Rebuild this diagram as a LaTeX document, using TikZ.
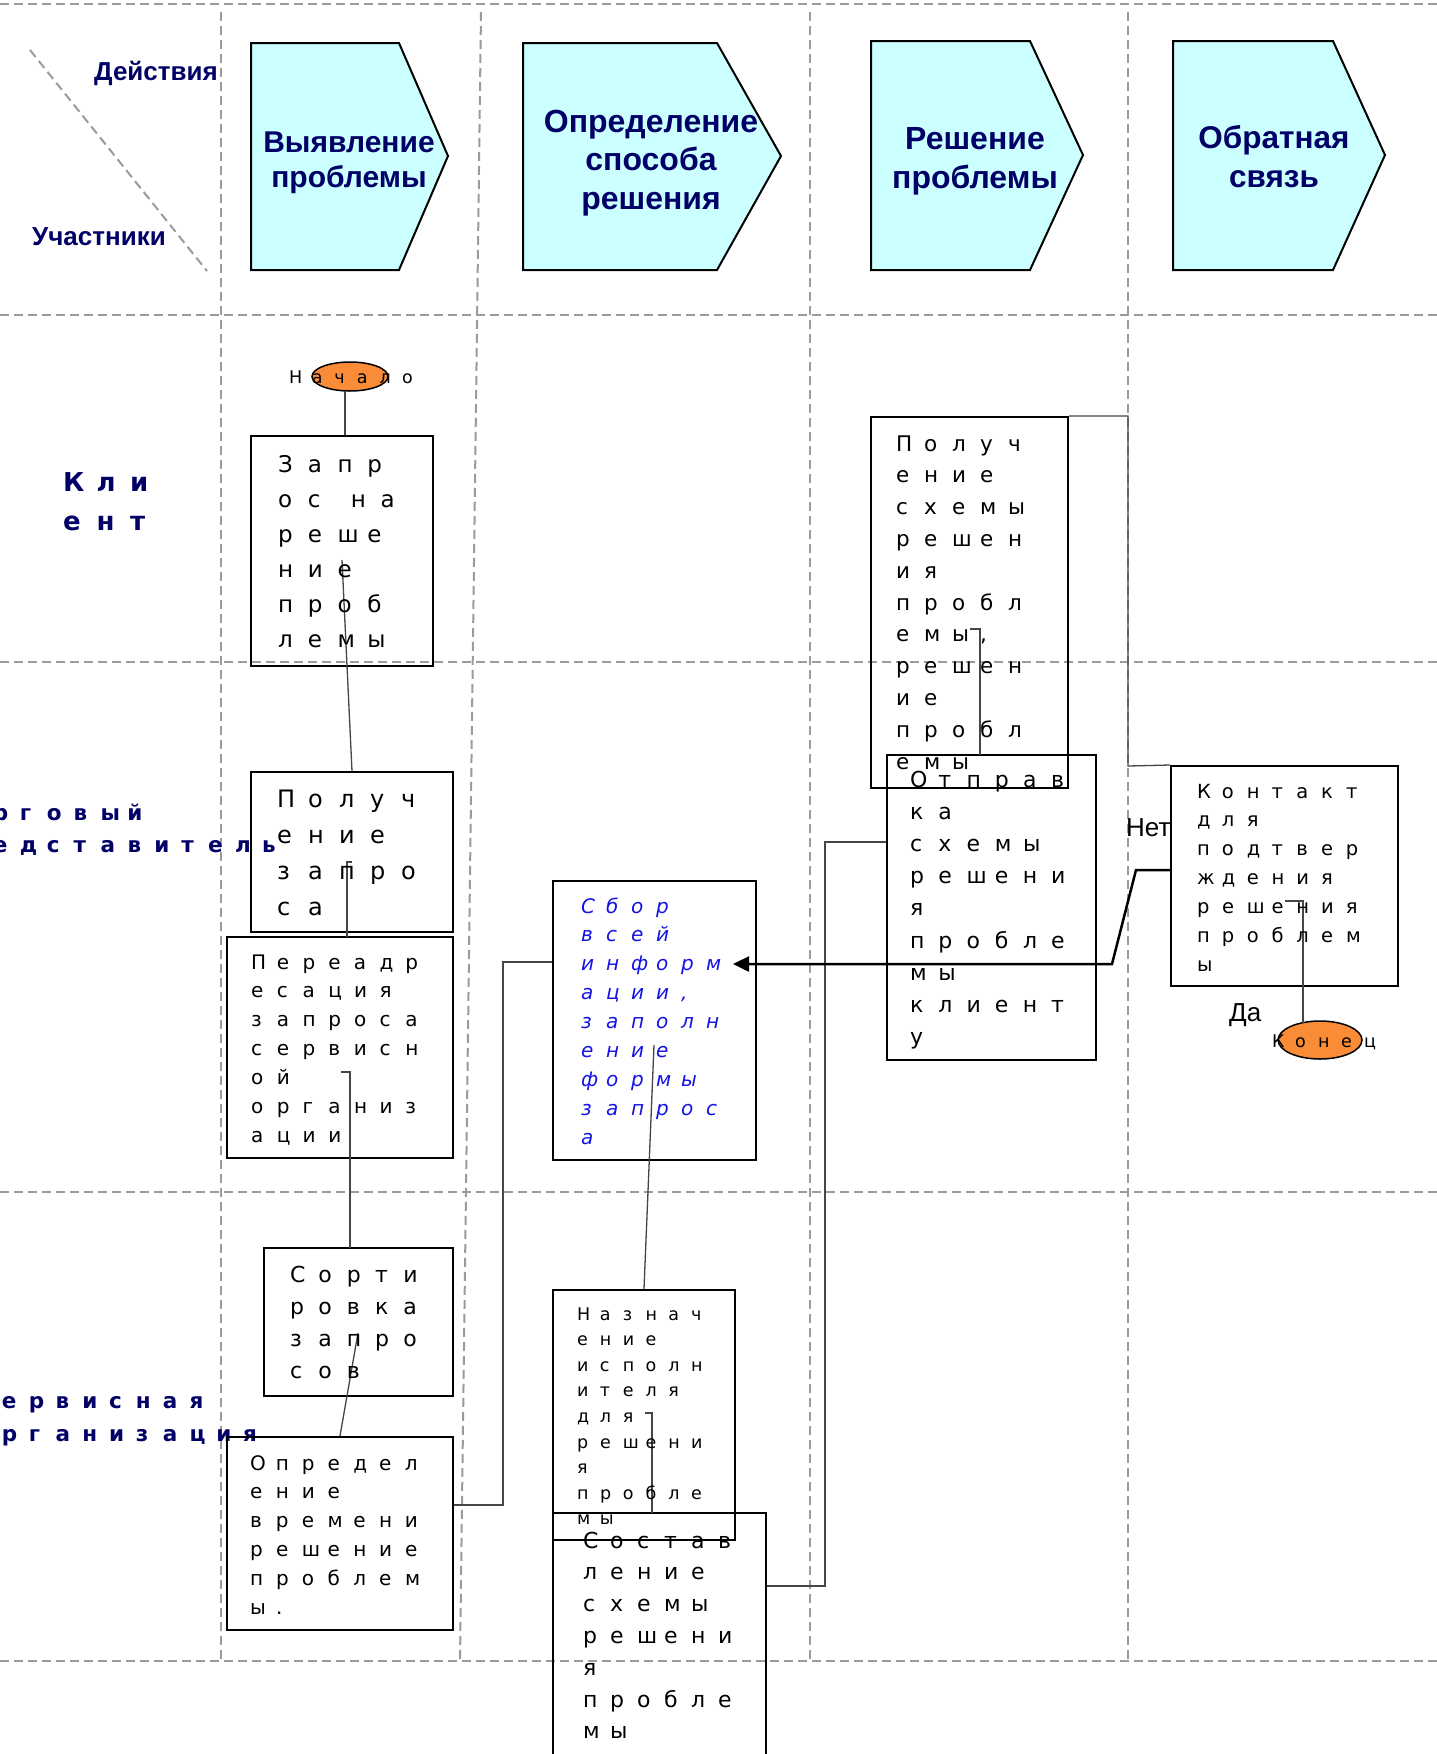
\documentclass[tikz,border=0pt]{standalone}
\usepackage{fontspec}
\setmainfont{DejaVu Sans}
\newfontfamily\hdrfont{Liberation Sans}
\usetikzlibrary{arrows.meta,calc,shapes.geometric}
\definecolor{navy}{RGB}{0,0,102}
\definecolor{cyanfill}{RGB}{204,255,255}
\definecolor{orangefill}{RGB}{250,140,55}
\definecolor{gridgray}{RGB}{155,155,155}
\definecolor{conngray}{RGB}{70,70,70}
\definecolor{bluetext}{RGB}{20,20,230}
\makeatletter
\newlength\fppitch
\let\fp@end\relax
\def\fp#1{\fp@#1\fp@end}
\def\fp@#1{\ifx#1\fp@end\else\ifx#1~\hspace*{0.45\fppitch}\else\makebox[\fppitch][l]{#1}\fi\expandafter\fp@\fi}
\makeatother
\newcommand\ptext[4]{\parbox[t]{340pt}{\fontsize{#1pt}{#2pt}\selectfont\setlength\fppitch{#3pt}#4}}
\begin{document}
\begin{tikzpicture}[x=1pt,y=-1pt,
  grid/.style={draw=gridgray, line width=2pt, dash pattern=on 9pt off 5pt},
  stage/.style={draw=black, line width=2pt, fill=cyanfill, line join=miter},
  stagetxt/.style={font=\hdrfont\bfseries, text=navy, align=center, inner sep=0},
  procbox/.style={draw=black, line width=2pt, rectangle, inner sep=0},
  term/.style={draw=black, line width=1.5pt, fill=orangefill, ellipse, inner sep=0},
  txt/.style={anchor=base west, inner sep=0, text=black},
  lanetxt/.style={anchor=base west, inner sep=0, text=navy, font=\bfseries},
  conn/.style={draw=conngray, line width=1.3pt},
  arrowline/.style={draw=black, line width=2.5pt, -{Triangle[length=16pt,width=15pt]}}]
\useasboundingbox (0,0) rectangle (1437,1754);
\clip (0,0) rectangle (1437,1754);
\fill[white] (0,0) rectangle (1437,1754);
% grid
\foreach \yy in {4,315,662,1192,1661} \draw[grid] (0,\yy) -- (1437,\yy);
\draw[grid] (221,12) -- (221,1661);
\draw[grid] (481,12) -- (460,1661);
\draw[grid] (810,12) -- (810,1661);
\draw[grid] (1128,12) -- (1128,1661);
\draw[grid] (30,50) -- (207,271);
% header
\node[font=\hdrfont\bfseries\fontsize{26pt}{30pt}\selectfont, text=navy, anchor=base east, inner sep=0] (act) at (218,80) {Действия};
\node[font=\hdrfont\bfseries\fontsize{26pt}{30pt}\selectfont, text=navy, anchor=base west, inner sep=0] (part) at (32,245) {Участники};
\draw[stage] (251,43) -- (399,43) -- (448,156) -- (399,270) -- (251,270) -- cycle;
\draw[stage] (523,43) -- (717,43) -- (781,156) -- (717,270) -- (523,270) -- cycle;
\draw[stage] (871,41) -- (1030,41) -- (1083,155) -- (1030,270) -- (871,270) -- cycle;
\draw[stage] (1173,41) -- (1333,41) -- (1385,155) -- (1333,270) -- (1173,270) -- cycle;
\node[stagetxt, font=\hdrfont\bfseries\fontsize{30pt}{35pt}\selectfont] (h1) at (349,162.5) {Выявление\\проблемы};
\node[stagetxt, font=\hdrfont\bfseries\fontsize{32pt}{38.5pt}\selectfont] (h2) at (651,163) {Определение\\способа\\решения};
\node[stagetxt, font=\hdrfont\bfseries\fontsize{32pt}{38.5pt}\selectfont] (h3) at (975,161.5) {Решение\\проблемы};
\node[stagetxt, font=\hdrfont\bfseries\fontsize{31.5pt}{38.5pt}\selectfont] (h4) at (1274,156.5) {Обратная\\связь};
% lane labels
\node[lanetxt] (l1) at (63,491) {\ptext{26}{39}{33.5}{\fp{Кли}\\\fp{ент}}};
\node[lanetxt] (l2) at (-61,820) {\ptext{21.5}{32}{26.9}{\fp{Торговый}\\\fp{представитель}}};
\node[lanetxt] (l3) at (-25,1408) {\ptext{21.5}{33}{26.8}{\fp{Сервисная}\\\fp{организация}}};
% boxes
\node[procbox, minimum width=182pt, minimum height=230pt] (b1) at (342,551) {};
\node[procbox, minimum width=202pt, minimum height=160pt] (b2) at (352,852) {};
\node[procbox, minimum width=226pt, minimum height=221pt] (b3) at (340,1047.5) {};
\node[procbox, minimum width=189pt, minimum height=148pt] (b4) at (358.5,1322) {};
\node[procbox, minimum width=226pt, minimum height=193pt] (b5) at (340,1533.5) {};
\node[procbox, minimum width=203pt, minimum height=279pt] (b6) at (654.5,1020.5) {};
\node[procbox, minimum width=182pt, minimum height=250pt] (b7) at (644,1415) {};
\node[procbox, minimum width=213pt, minimum height=277pt] (b8) at (659.5,1651.5) {};
\node[procbox, minimum width=197pt, minimum height=371pt] (b9) at (969.5,602.5) {};
\node[procbox, minimum width=209pt, minimum height=305pt] (b10) at (991.5,907.5) {};
\node[procbox, minimum width=227pt, minimum height=220pt] (b11) at (1284.5,876) {};
\node[term, minimum width=76pt, minimum height=29pt] (e1) at (350,376.5) {};
\node[term, minimum width=84pt, minimum height=38pt] (e2) at (1320,1040) {};
% connector points
\coordinate (p0) at (345,391);
\coordinate (p1) at (342,560);
\coordinate (p2) at (352,862); \coordinate (p2e) at (347,937);
\coordinate (p3) at (341,1072); \coordinate (p3e) at (350,1248);
\coordinate (p4) at (358,1333);
\coordinate (p5) at (654,1045);
\coordinate (p6) at (645,1413); \coordinate (p6e) at (652,1513);
\coordinate (p7) at (970,629); \coordinate (p7e) at (980,755);
\coordinate (p8) at (1285,901); \coordinate (p8e) at (1303,1023);
\coordinate (k1) at (503,1505); \coordinate (k2) at (553,962);
\coordinate (m1) at (825,1586); \coordinate (m2) at (887,842);
\coordinate (r1) at (1128,766);
\coordinate (a1) at (1136,870); \coordinate (a2) at (1112,964); \coordinate (a3) at (733,964);
% connectors
\draw[conn] (p0) -- (p0 |- b1.north);
\draw[conn] (p1) -- (b2.north);
\draw[conn] (p2) -| (p2e);
\draw[conn] (p3) -| (p3e);
\draw[conn] (p4) -- (b5.north);
\draw[conn] (b5.east |- k1) -- (k1) |- (b6.west |- k2);
\draw[conn] (p5) -- (b7.north);
\draw[conn] (p6) -| (p6e);
\draw[conn] (b8.east |- m1) -- (m1) |- (b10.west |- m2);
\draw[conn] (b9.north east) -| (r1) -- (b11.north west);
\draw[conn] (p7) -| (p7e);
\draw[conn] (p8) -| (p8e);
\draw[arrowline] (b11.west |- a1) -- (a1) -- (a2) -- (a3);
% terminal texts
\node[txt] (n1) at (289,383) {\ptext{17.5}{20}{22.6}{\fp{Начало}}};
\node[txt] (n2) at (1272,1047) {\ptext{17.5}{20}{23}{\fp{Конец}}};
% box texts
\node[txt] (t1) at (278,472) {\ptext{23}{35}{29.7}{\fp{Запр}\\\fp{ос~на}\\\fp{реше}\\\fp{ние}\\\fp{проб}\\\fp{лемы}}};
\node[txt] (t2) at (277,807) {\ptext{24}{36}{31}{\fp{Получ}\\\fp{ение}\\\fp{запро}\\\fp{са}}};
\node[txt] (t3) at (251,969) {\ptext{20}{28.9}{25.7}{\fp{Переадр}\\\fp{есация}\\\fp{запроса}\\\fp{сервисн}\\\fp{ой}\\\fp{организ}\\\fp{ации}}};
\node[txt] (t4) at (290,1282) {\ptext{22}{32.3}{28.3}{\fp{Сорти}\\\fp{ровка}\\\fp{запро}\\\fp{сов}}};
\node[txt] (t5) at (250,1470) {\ptext{20}{28.8}{25.8}{\fp{Определ}\\\fp{ение}\\\fp{времени}\\\fp{решение}\\\fp{проблем}\\\fp{ы.}}};
\node[txt, text=bluetext, font=\itshape] (t6) at (581,913) {\ptext{20}{28.9}{25}{\fp{Сбор}\\\fp{всей}\\\fp{информ}\\\fp{ации,}\\\fp{заполн}\\\fp{ение}\\\fp{формы}\\\fp{запрос}\\\fp{а}}};
\node[txt] (t7) at (577,1320) {\ptext{17.5}{25.6}{22.8}{\fp{Назнач}\\\fp{ение}\\\fp{исполн}\\\fp{ителя}\\\fp{для}\\\fp{решени}\\\fp{я}\\\fp{пробле}\\\fp{мы}}};
\node[txt] (t8) at (583,1548) {\ptext{22}{31.8}{27}{\fp{Состав}\\\fp{ление}\\\fp{схемы}\\\fp{решени}\\\fp{я}\\\fp{пробле}\\\fp{мы}}};
\node[txt] (t9) at (896,451) {\ptext{21.5}{31.8}{28}{\fp{Получ}\\\fp{ение}\\\fp{схемы}\\\fp{решен}\\\fp{ия}\\\fp{пробл}\\\fp{емы,}\\\fp{решен}\\\fp{ие}\\\fp{пробл}\\\fp{емы}}};
\node[txt] (t10) at (910,787) {\ptext{22}{32.2}{28.2}{\fp{Отправ}\\\fp{ка}\\\fp{схемы}\\\fp{решени}\\\fp{я}\\\fp{пробле}\\\fp{мы}\\\fp{клиент}\\\fp{у}}};
\node[txt] (t11) at (1197,798) {\ptext{19.5}{28.9}{24.8}{\fp{Контакт}\\\fp{для}\\\fp{подтвер}\\\fp{ждения}\\\fp{решения}\\\fp{проблем}\\\fp{ы}}};
% branch labels
\node[font=\hdrfont\fontsize{26pt}{30pt}\selectfont, anchor=base west, inner sep=0] (no) at (1126,836) {Нет};
\node[font=\hdrfont\fontsize{26pt}{30pt}\selectfont, anchor=base west, inner sep=0] (yes) at (1229,1021) {Да};
\end{tikzpicture}
\end{document}
